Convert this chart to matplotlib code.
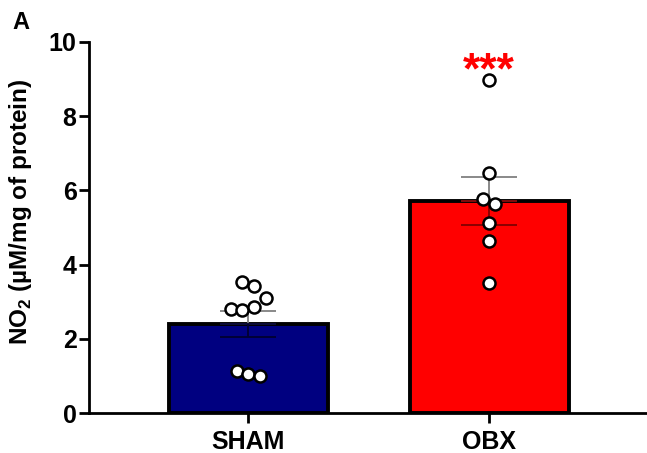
import matplotlib
matplotlib.use("Agg")
import matplotlib.pyplot as plt
import numpy as np

plt.rcParams['font.family'] = ['Liberation Sans', 'DejaVu Sans']
plt.rcParams['font.weight'] = 'bold'
plt.rcParams['mathtext.fontset'] = 'custom'
plt.rcParams['mathtext.rm'] = 'Liberation Sans:bold'
plt.rcParams['mathtext.bf'] = 'Liberation Sans:bold'

groups = ["SHAM", "OBX"]
sham_points = [3.54, 3.42, 3.10, 2.80, 2.77, 2.86, 1.12, 1.05, 1.00]
sham_offsets = [-0.025, 0.025, 0.073, -0.073, -0.025, 0.025, -0.048, 0.0, 0.05]
obx_points = [8.98, 6.47, 5.76, 5.63, 5.13, 4.64, 3.50]
obx_offsets = [0.0, 0.0, -0.024, 0.026, 0.0, 0.0, 0.0]
means = [2.41, 5.72]
sems = [0.35, 0.64]
bar_colors = ["#000080", "#ff0000"]
inner_err_colors = ["#000030", "#800000"]

fig = plt.figure(figsize=(6.47, 4.53), dpi=100)
ax = fig.add_axes([0.1376, 0.0883, 0.8624, 0.819])

x = np.arange(len(groups))
ax.bar(x, means, width=0.66, color=bar_colors, edgecolor='black', linewidth=2.8, zorder=2)

for i in range(len(groups)):
    # upper half of the error bar (outside the bar)
    ax.errorbar(x[i], means[i], yerr=[[0], [sems[i]]], color='#808080', capsize=20,
                elinewidth=1.3, capthick=1.3, zorder=3)
    # lower half drawn darker, inside the bar
    ax.errorbar(x[i], means[i], yerr=[[sems[i]], [0]], color=inner_err_colors[i], capsize=20,
                elinewidth=1.3, capthick=1.3, zorder=3)

all_points = [sham_points, obx_points]
all_offsets = [sham_offsets, obx_offsets]
for i in range(len(groups)):
    xs = x[i] + np.array(all_offsets[i])
    ax.scatter(xs, all_points[i], s=75, facecolor='white', edgecolor='black',
               linewidth=1.8, zorder=4)

ax.text(x[1], 9.2, "***", color='red', fontsize=32, fontweight='bold',
        ha='center', va='center')

ax.set_xlim(-0.662, 1.656)
ax.set_ylim(0, 10)
ax.set_yticks([0, 2, 4, 6, 8, 10])
ax.set_xticks(x)
ax.set_xticklabels(groups, fontsize=18, fontweight='bold')
ax.tick_params(axis='y', labelsize=18, width=2, length=7, pad=2)
ax.tick_params(axis='x', width=2, length=7, pad=5)
for lbl in ax.get_yticklabels():
    lbl.set_fontweight('bold')

ax.spines['top'].set_visible(False)
ax.spines['right'].set_visible(False)
ax.spines['left'].set_linewidth(2)
ax.spines['bottom'].set_linewidth(2)

ax.set_ylabel(r"NO$_2$ (µM/mg of protein)", fontsize=17.5, fontweight='bold')
ax.yaxis.set_label_coords(-0.099, 0.542)

fig.text(0.032, 0.951, "A", fontsize=17, fontweight='bold', ha='center', va='center')

fig.savefig("out.png", dpi=100)
